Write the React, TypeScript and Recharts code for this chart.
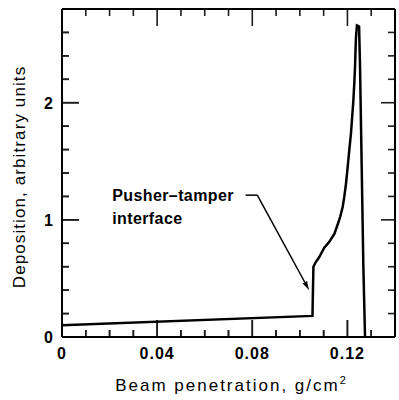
import React from 'react'
import { LineChart, Line, XAxis, YAxis, ReferenceLine, ReferenceDot, Label } from 'recharts'

// beam penetration (g/cm2) and deposition (arbitrary units)
const penetration = [0, 0.1053, 0.1057, 0.1067, 0.1081, 0.1102, 0.1123, 0.1145, 0.1159, 0.117, 0.118, 0.1187, 0.1194, 0.1201, 0.1208, 0.1215, 0.122, 0.1225, 0.1229, 0.1232, 0.1234, 0.1236, 0.124, 0.1249, 0.1253, 0.126, 0.1267, 0.1274]
const deposition = [0.1, 0.18, 0.6, 0.64, 0.68, 0.76, 0.81, 0.88, 0.96, 1.03, 1.11, 1.2, 1.31, 1.45, 1.6, 1.74, 1.88, 2.02, 2.17, 2.31, 2.45, 2.56, 2.66, 2.65, 2.31, 1.45, 0.6, 0]

const xTicks = [0, 0.01, 0.02, 0.03, 0.04, 0.05, 0.06, 0.07, 0.08, 0.09, 0.1, 0.11, 0.12, 0.13, 0.14]
const xMajor = [0, 0.04, 0.08, 0.12]
const xLabels = ['0', '0.04', '0.08', '0.12']
const yTicks = [0, 0.2, 0.4, 0.6, 0.8, 1, 1.2, 1.4, 1.6, 1.8, 2, 2.2, 2.4, 2.6, 2.8]
const yMajor = [0, 1, 2]
const yLabels = ['0', '1', '2']

const xMin = 0
const xMax = 0.14
const yMin = 0
const yMax = 2.8

// annotation leader (penetration, deposition)
const leaderX = [0.0772, 0.0821, 0.1039]
const leaderY = [1.211, 1.211, 0.4]

const data = penetration.map((x, i) => ({ x, y: deposition[i] }))

const W = 399
const H = 400
const margin = { top: 9, right: 4, bottom: 0, left: 0 }
const yAxisWidth = 62
const xAxisHeight = 63

// tick lengths in pixels turned into axis units
const unitX = (xMax - xMin) / (W - margin.left - margin.right - yAxisWidth)
const unitY = (yMax - yMin) / (H - margin.top - margin.bottom - xAxisHeight)

const tickColor = '#1c1c1c'
const font = '"Liberation Sans", Arial, Helvetica, sans-serif'
const isMajor = (list: number[], v: number) => list.some((m) => Math.abs(m - v) < 1e-6)
const majorIndex = (list: number[], v: number) => list.findIndex((m) => Math.abs(m - v) < 1e-6)

const XLabelTick = ({ x, y, payload }: any) => {
  const i = majorIndex(xMajor, payload.value)
  return (
    <text x={x} y={y + 22} textAnchor="middle" fontFamily={font} fontWeight="bold" fontSize={16} letterSpacing={1} fill="#000">
      {xLabels[i]}
    </text>
  )
}

const YLabelTick = ({ x, y, payload }: any) => {
  const i = majorIndex(yMajor, payload.value)
  return (
    <text x={x - 9} y={y + 6} textAnchor="end" fontFamily={font} fontWeight="bold" fontSize={16} fill="#000">
      {yLabels[i]}
    </text>
  )
}

const XTitle = ({ viewBox }: any) => (
  <text x={viewBox.x + viewBox.width / 2 + 3} y={viewBox.y + 54} textAnchor="middle" fontFamily={font} fontSize={17} letterSpacing={2} fill="#000">
    Beam penetration, g/cm<tspan dy={-7} fontSize={11}>2</tspan>
  </text>
)

const YTitle = ({ viewBox }: any) => {
  const cx = 25
  const cy = viewBox.y + viewBox.height / 2 + 4
  return (
    <text x={cx} y={cy} transform={`rotate(-90 ${cx} ${cy})`} textAnchor="middle" fontFamily={font} fontSize={17} letterSpacing={1.1} fill="#000">
      Deposition, arbitrary units
    </text>
  )
}

const ArrowLine = (props: any) => {
  const { x1, y1, x2, y2 } = props
  const a = Math.atan2(y2 - y1, x2 - x1)
  const bx = x2 - 9 * Math.cos(a)
  const by = y2 - 9 * Math.sin(a)
  const px = -Math.sin(a) * 2.5
  const py = Math.cos(a) * 2.5
  return (
    <g>
      <line x1={x1} y1={y1} x2={bx} y2={by} stroke="#000" strokeWidth={1.5} />
      <polygon points={`${x2},${y2} ${bx + px},${by + py} ${bx - px},${by - py}`} fill="#000" />
    </g>
  )
}

const noteText = (text: string) => (p: any) => (
  <text x={p.cx} y={p.cy} fontFamily={font} fontWeight="bold" fontSize={16} letterSpacing={0.4} fill="#000">
    {text}
  </text>
)

// left-edge tick drawn from a full-width segment
const leftTick = (major: boolean) => (p: any) => {
  const left = Math.min(p.x1, p.x2)
  return <line x1={left} y1={p.y1} x2={left + (major ? 17 : 7)} y2={p.y1} stroke={tickColor} strokeWidth={1.6} />
}

// bottom-edge tick drawn from a full-height segment
const bottomTick = (major: boolean) => (p: any) => {
  const bottom = Math.max(p.y1, p.y2)
  return <line x1={p.x1} y1={bottom} x2={p.x1} y2={bottom - (major ? 17 : 7)} stroke={tickColor} strokeWidth={1.6} />
}

// short inward tick segments on all four sides
const tickSegments: { x: number; y: number }[][] = []
xTicks.forEach((v) => {
  const len = (isMajor(xMajor, v) ? 17 : 7) * unitY
  tickSegments.push([{ x: v, y: yMax }, { x: v, y: yMax - len }])
  tickSegments.push([{ x: v, y: yMin }, { x: v, y: yMin + len }])
})
yTicks.forEach((v) => {
  const major = isMajor(yMajor, v)
  tickSegments.push([{ x: xMax, y: v }, { x: xMax - (major ? 14 : 7) * unitX, y: v }])
  tickSegments.push([{ x: xMin, y: v }, { x: xMin + (major ? 17 : 7) * unitX, y: v }])
})

// plot frame edges
const frame = [
  [{ x: xMin, y: yMin }, { x: xMax, y: yMin }],
  [{ x: xMin, y: yMax }, { x: xMax, y: yMax }],
  [{ x: xMin, y: yMin }, { x: xMin, y: yMax }],
  [{ x: xMax, y: yMin }, { x: xMax, y: yMax }],
]

const tickAxis = { type: 'number' as const, allowDataOverflow: true, interval: 0, mirror: true, tick: false, axisLine: false, tickLine: { stroke: tickColor, strokeWidth: 1.6 } }

export default function App() {
  return (
    <div style={{ position: 'absolute', left: 0, top: 0, background: '#fff' }}>
      <LineChart width={W} height={H} data={data} margin={margin}>
        <XAxis xAxisId="bMinor" orientation="bottom" dataKey="x" domain={[xMin, xMax]} ticks={xTicks} height={1} tickSize={7} {...tickAxis} />
        <XAxis xAxisId="bMajor" orientation="bottom" dataKey="x" domain={[xMin, xMax]} ticks={xMajor} height={1} tickSize={17} {...tickAxis} />
        <YAxis yAxisId="rMinor" orientation="right" domain={[yMin, yMax]} ticks={yTicks} width={1} tickSize={7} {...tickAxis} />
        <XAxis
          dataKey="x"
          type="number"
          domain={[xMin, xMax]}
          allowDataOverflow
          ticks={xMajor}
          interval={0}
          height={xAxisHeight}
          tickSize={0}
          tickMargin={0}
          tickLine={false}
          tick={XLabelTick}
          axisLine={{ stroke: '#000', strokeWidth: 2 }}
        >
          <Label content={XTitle} />
        </XAxis>
        <YAxis
          type="number"
          domain={[yMin, yMax]}
          allowDataOverflow
          ticks={yMajor}
          interval={0}
          width={yAxisWidth}
          tickSize={0}
          tickMargin={0}
          tickLine={false}
          tick={YLabelTick}
          axisLine={{ stroke: '#000', strokeWidth: 2 }}
        >
          <Label content={YTitle} />
        </YAxis>
        {yTicks.map((v) => (
          <ReferenceLine key={'y' + v} segment={[{ x: xMin, y: v }, { x: xMax, y: v }]} shape={leftTick(isMajor(yMajor, v))} />
        ))}
        {xTicks.map((v) => (
          <ReferenceLine key={'b' + v} segment={[{ x: v, y: yMin }, { x: v, y: yMax }]} shape={bottomTick(isMajor(xMajor, v))} />
        ))}
        {tickSegments.map((seg, i) => (
          <ReferenceLine key={'t' + i} segment={seg} stroke={tickColor} strokeWidth={1.6} />
        ))}
        {frame.map((seg, i) => (
          <ReferenceLine key={'f' + i} segment={seg} stroke="#000" strokeWidth={2} />
        ))}
        <Line type="linear" dataKey="y" stroke="#000" strokeWidth={2.5} dot={false} isAnimationActive={false} />
        <Line xAxisId="bMinor" type="linear" dataKey="y" stroke="none" dot={false} isAnimationActive={false} />
        <Line xAxisId="bMajor" yAxisId="rMinor" type="linear" dataKey="y" stroke="none" dot={false} isAnimationActive={false} />
        <ReferenceLine
          segment={[{ x: leaderX[0], y: leaderY[0] }, { x: leaderX[1], y: leaderY[1] }]}
          stroke="#000"
          strokeWidth={1.5}
        />
        <ReferenceLine
          segment={[{ x: leaderX[1], y: leaderY[1] }, { x: leaderX[2], y: leaderY[2] }]}
          shape={ArrowLine}
        />
        <ReferenceDot x={0.0211} y={1.16} r={0} shape={noteText('Pusher–tamper')} />
        <ReferenceDot x={0.0211} y={0.962} r={0} shape={noteText('interface')} />
      </LineChart>
    </div>
  )
}
